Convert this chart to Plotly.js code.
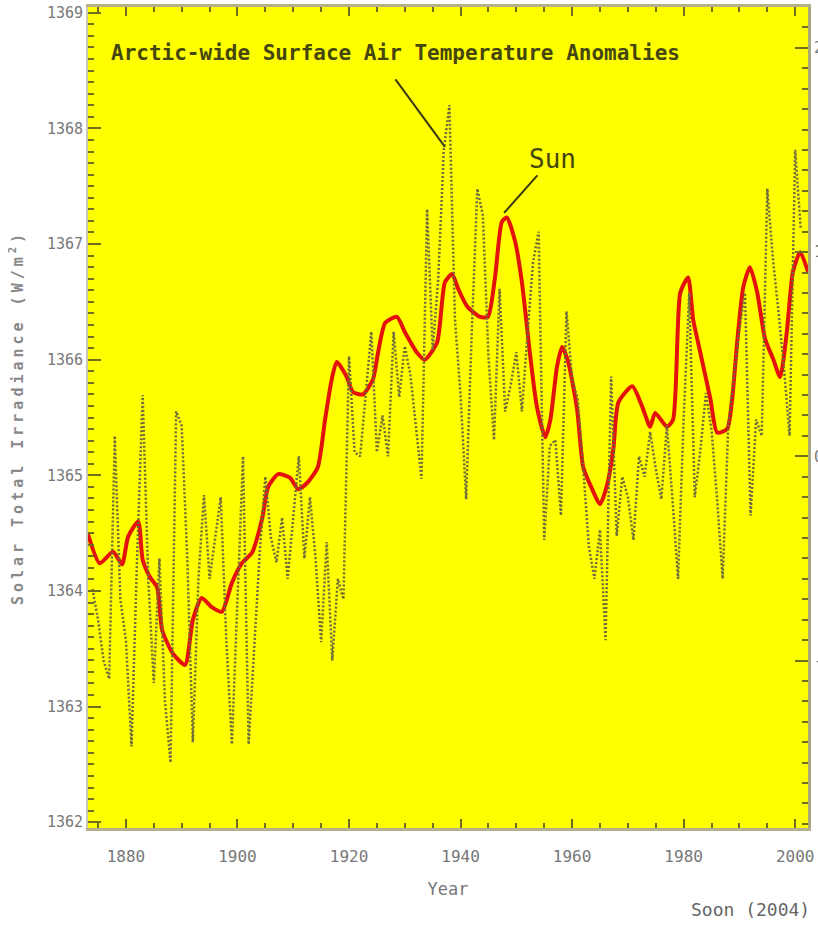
<!DOCTYPE html>
<html>
<head>
<meta charset="utf-8">
<script src="https://cdn.plot.ly/plotly-3.0.1.min.js"></script>
<style>
  html, body { margin: 0; padding: 0; background: #ffffff; }
  #chart { width: 818px; height: 925px; }
  text.ytitle { letter-spacing: 4px; }
</style>
</head>
<body>
<div id="chart"></div>
<script>
// Sun: solar total irradiance (W/m^2), smooth red curve
const sunYears = [1873.2,1875.3,1877.7,1879.3,1880.4,1882.2,1883.0,1884.3,1885.6,1886.5,
  1888.4,1890.6,1892.0,1893.6,1895.4,1897.2,1899.0,1900.8,1902.6,1904.4,
  1905.5,1907.3,1909.4,1910.9,1912.6,1914.4,1915.7,1916.9,1917.8,1919.6,
  1920.7,1922.5,1924.3,1925.2,1926.5,1928.6,1930.0,1932.2,1933.6,1935.8,
  1937.2,1938.5,1939.6,1941.2,1943.5,1944.9,1946.2,1947.4,1948.3,1949.8,
  1951.0,1952.5,1953.7,1955.2,1956.1,1957.3,1958.2,1959.3,1960.9,1962.0,
  1963.6,1965.0,1966.3,1967.4,1968.3,1970.8,1972.6,1974.0,1974.9,1977.0,
  1978.1,1979.4,1980.8,1981.7,1983.0,1984.8,1986.0,1987.8,1988.7,1989.6,
  1990.7,1991.9,1993.2,1994.6,1996.1,1997.3,1998.5,1999.6,2000.9,2002.3];
const sunValues = [1364.49,1364.24,1364.34,1364.23,1364.47,1364.60,1364.27,1364.12,1364.03,1363.66,
  1363.46,1363.36,1363.75,1363.94,1363.86,1363.82,1364.07,1364.24,1364.33,1364.62,
  1364.90,1365.01,1364.98,1364.88,1364.94,1365.07,1365.48,1365.83,1365.98,1365.85,
  1365.72,1365.70,1365.83,1366.06,1366.32,1366.37,1366.24,1366.06,1366.00,1366.15,
  1366.67,1366.74,1366.61,1366.46,1366.37,1366.37,1366.72,1367.19,1367.23,1367.02,
  1366.67,1366.03,1365.59,1365.33,1365.48,1365.94,1366.11,1365.98,1365.57,1365.07,
  1364.88,1364.75,1364.92,1365.23,1365.63,1365.77,1365.59,1365.42,1365.54,1365.42,
  1365.48,1366.58,1366.71,1366.35,1366.06,1365.66,1365.37,1365.40,1365.66,1366.15,
  1366.63,1366.80,1366.58,1366.18,1366.00,1365.85,1366.24,1366.76,1366.93,1366.76];

// Arctic-wide surface air temperature anomalies (deg C), annual, dotted
const tempYears = [
  1874,1875,1876,1877,1878,1879,
  1880,1881,1882,1883,1884,1885,1886,1887,1888,1889,
  1890,1891,1892,1893,1894,1895,1896,1897,1898,1899,
  1900,1901,1902,1903,1904,1905,1906,1907,1908,1909,
  1910,1911,1912,1913,1914,1915,1916,1917,1918,1919,
  1920,1921,1922,1923,1924,1925,1926,1927,1928,1929,
  1930,1931,1932,1933,1934,1935,1936,1937,1938,1939,
  1940,1941,1942,1943,1944,1945,1946,1947,1948,1949,
  1950,1951,1952,1953,1954,1955,1956,1957,1958,1959,
  1960,1961,1962,1963,1964,1965,1966,1967,1968,1969,
  1970,1971,1972,1973,1974,1975,1976,1977,1978,1979,
  1980,1981,1982,1983,1984,1985,1986,1987,1988,1989,
  1990,1991,1992,1993,1994,1995,1996,1997,1998,1999,
  2000,2001];
const tempValues = [
  -0.65,-0.80,-1.00,-1.09,0.10,-0.70,
  -0.90,-1.42,-0.50,0.30,-0.60,-1.11,-0.50,-1.20,-1.50,0.22,
  0.15,-0.50,-1.40,-0.60,-0.19,-0.60,-0.40,-0.20,-0.90,-1.41,
  -0.70,0.00,-1.41,-0.95,-0.47,-0.10,-0.40,-0.52,-0.30,-0.60,
  -0.31,0.00,-0.50,-0.20,-0.50,-0.91,-0.42,-1.00,-0.60,-0.70,
  0.49,0.02,0.00,0.29,0.61,0.02,0.20,0.00,0.61,0.29,
  0.54,0.40,0.15,-0.11,1.21,0.52,0.87,1.50,1.72,0.67,
  0.30,-0.21,0.60,1.31,1.18,0.49,0.08,0.82,0.22,0.35,
  0.51,0.22,0.60,0.95,1.10,-0.41,0.05,0.08,-0.29,0.71,
  0.38,0.28,-0.06,-0.44,-0.60,-0.36,-0.90,0.39,-0.39,-0.10,
  -0.20,-0.41,0.00,-0.10,0.12,-0.06,-0.21,0.15,-0.21,-0.60,
  0.18,0.80,-0.20,0.03,0.31,0.13,-0.21,-0.60,0.15,0.38,
  0.62,0.80,-0.29,0.18,0.10,1.31,0.97,0.71,0.43,0.10,
  1.50,1.11];

// Axis ticks and labels
const xTickYears = [1880,1900,1920,1940,1960,1980,2000];
const xTickLabels = ['1880','1900','1920','1940','1960','1980','2000'];
const yTickVals = [1362,1363,1364,1365,1366,1367,1368,1369];
const yTickLabels = ['1362','1363','1364','1365','1366','1367','1368','1369'];
const y2TickVals = [-1,0,1,2];
const y2TickLabels = ['-1','0','1','2'];

const labelGray = '#777777';
const tickOlive = '#70701a';
const mono = 'DejaVu Sans Mono';

const traces = [
  {
    x: tempYears, y: tempValues, yaxis: 'y2', type: 'scatter', mode: 'lines',
    name: 'Arctic-wide Surface Air Temperature Anomalies',
    line: { color: '#6f6b3c', width: 2.5, dash: '2px,2px' },
    hoverinfo: 'x+y'
  },
  {
    x: sunYears, y: sunValues, type: 'scatter', mode: 'lines', name: 'Sun',
    line: { color: '#e3120b', width: 4, shape: 'spline', smoothing: 0.6 },
    hoverinfo: 'x+y'
  }
];

const layout = {
  width: 818, height: 925,
  margin: { l: 88, r: 10, t: 7, b: 97 },
  paper_bgcolor: '#ffffff',
  plot_bgcolor: '#ffff00',
  showlegend: false,
  xaxis: {
    range: [1873.2, 2002.3],
    tickmode: 'array', tickvals: xTickYears, ticktext: xTickLabels,
    ticks: 'inside', ticklen: 9, tickwidth: 2, tickcolor: tickOlive,
    minor: { dtick: 5, tick0: 1880, ticks: 'inside', ticklen: 5, tickwidth: 2, tickcolor: tickOlive },
    showline: true, linecolor: '#b4b08a', linewidth: 3, mirror: 'ticks',
    showgrid: false, zeroline: false,
    tickfont: { family: mono, size: 16, color: labelGray },
    ticklabelstandoff: 12,
    title: { text: 'Year', font: { family: mono, size: 17, color: labelGray }, standoff: 18 }
  },
  yaxis: {
    range: [1361.95, 1369.05],
    tickmode: 'array', tickvals: yTickVals, ticktext: yTickLabels,
    ticks: 'inside', ticklen: 13, tickwidth: 2, tickcolor: tickOlive,
    minor: { dtick: 0.1, tick0: 1362, ticks: 'inside', ticklen: 6, tickwidth: 2, tickcolor: tickOlive },
    showline: true, linecolor: '#c8c8b4', linewidth: 2,
    showgrid: false, zeroline: false,
    tickfont: { family: mono, size: 15, color: labelGray },
    title: { text: 'Solar Total Irradiance (W/m<sup>2</sup>)', standoff: 20,
             font: { family: mono, size: 15, color: '#888888', weight: 'bold' } }
  },
  yaxis2: {
    overlaying: 'y', side: 'right',
    range: [-1.82, 2.20],
    tickmode: 'array', tickvals: y2TickVals, ticktext: y2TickLabels,
    ticks: 'inside', ticklen: 13, tickwidth: 2, tickcolor: tickOlive,
    minor: { dtick: 0.1, tick0: 0, ticks: 'inside', ticklen: 6, tickwidth: 2, tickcolor: tickOlive },
    showline: true, linecolor: '#a8a878', linewidth: 3,
    showgrid: false, zeroline: false,
    tickfont: { family: mono, size: 15, color: labelGray }
  },
  annotations: [
    { xref: 'paper', yref: 'paper', x: 0.427, y: 0.9445, xanchor: 'center', yanchor: 'middle',
      text: 'Arctic-wide Surface Air Temperature Anomalies', showarrow: false,
      font: { family: mono, size: 21, color: '#45450f', weight: 'bold' } },
    { xref: 'x', yref: 'y', x: 1937.2, y: 1367.84, text: ' ', showarrow: true,
      arrowhead: 0, arrowwidth: 2, arrowcolor: '#3a3a10', ax: -52, ay: -71,
      font: { family: mono, size: 4, color: '#3a3a10' } },
    { xref: 'x', yref: 'y', x: 1947.8, y: 1367.27, ax: 48, ay: -54, text: 'Sun', showarrow: true,
      arrowhead: 0, arrowwidth: 2, arrowcolor: '#3a3a10', standoff: 0,
      font: { family: mono, size: 26, color: '#45450f' } },
    { xref: 'paper', yref: 'paper', x: 1.005, y: -0.099, xanchor: 'right', yanchor: 'middle',
      text: 'Soon (2004)', showarrow: false,
      font: { family: mono, size: 18, color: '#666666' } }
  ]
};

Plotly.newPlot('chart', traces, layout, { displayModeBar: false, staticPlot: true });
</script>
</body>
</html>
